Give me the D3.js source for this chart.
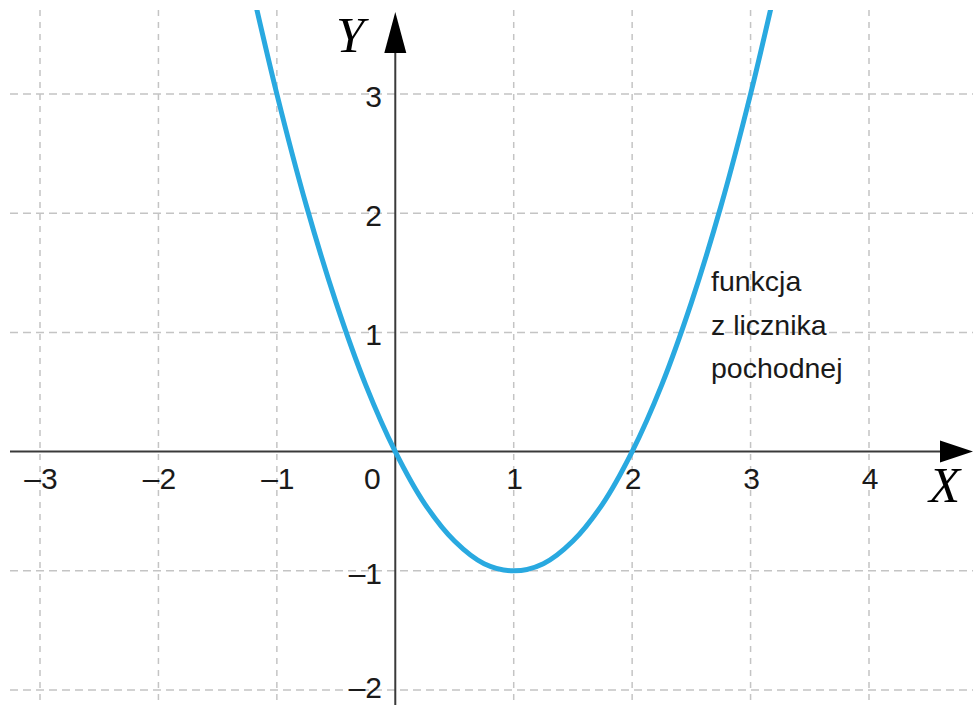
<!DOCTYPE html>
<html>
<head>
  <meta charset="utf-8">
  <title>Parabola</title>
  <script src="https://d3js.org/d3.v7.min.js"></script>
  <style>
    body { margin: 0; background: #fff; }
    svg { display: block; }
  </style>
</head>
<body>
  <div id="chart"></div>
  <script>
    // grid / tick values
    var xTicks = [-3, -2, -1, 0, 1, 2, 3, 4];
    var yTicks = [-2, -1, 1, 2, 3];
    var xTickLabels = ["\u20133", "\u20132", "\u20131", "0", "1", "2", "3", "4"];
    var yTickLabels = ["\u20132", "\u20131", "1", "2", "3"];

    // points
    var curveX = [-1.25, -1, -0.75, -0.5, -0.25, 0, 0.25, 0.5, 0.75, 1, 1.25, 1.5, 1.75, 2, 2.25, 2.5, 2.75, 3, 3.25];
    var curveY = [4.06, 3, 2.06, 1.25, 0.56, 0, -0.44, -0.75, -0.94, -1, -0.94, -0.75, -0.44, 0, 0.56, 1.25, 2.06, 3, 4.06];

    var noteLines = ["funkcja", "z licznika", "pochodnej"];

    var W = 973, H = 705;

    var x = d3.scaleLinear().domain([-3, 4]).range([40, 869]);
    var y = d3.scaleLinear().domain([-2, 3]).range([690, 94]);

    var svg = d3.select("#chart").append("svg")
        .attr("width", W)
        .attr("height", H);

    svg.append("defs").append("clipPath").attr("id", "clip")
      .append("rect").attr("x", 0).attr("y", 10).attr("width", W).attr("height", H - 10);

    // dashed grid
    var grid = svg.append("g")
        .attr("stroke", "#c4c4c4")
        .attr("stroke-width", 1.5);
    grid.selectAll(".vg").data(xTicks.filter(function(d){ return d !== 0; }))
      .enter().append("line")
        .attr("x1", function(d){ return x(d); })
        .attr("x2", function(d){ return x(d); })
        .attr("y1", 10).attr("y2", H)
        .attr("stroke-dasharray", "6,6");
    grid.selectAll(".hg").data(yTicks)
      .enter().append("line")
        .attr("y1", function(d){ return y(d); })
        .attr("y2", function(d){ return y(d); })
        .attr("x1", 10).attr("x2", W)
        .attr("stroke-dasharray", "8,5");

    // axes
    var x0 = x(0), y0 = y(0);
    svg.append("line")
        .attr("x1", 10).attr("x2", 945)
        .attr("y1", y0).attr("y2", y0)
        .attr("stroke", "#3a3a3a").attr("stroke-width", 2);
    svg.append("line")
        .attr("x1", x0).attr("x2", x0)
        .attr("y1", 45).attr("y2", H)
        .attr("stroke", "#3a3a3a").attr("stroke-width", 2);
    svg.append("path")
        .attr("d", "M973," + y0 + "L940," + (y0 - 11) + "L940," + (y0 + 11) + "Z")
        .attr("fill", "#000");
    svg.append("path")
        .attr("d", "M" + x0 + ",12L" + (x0 - 11) + ",53L" + (x0 + 11) + ",53Z")
        .attr("fill", "#000");

    // tick labels
    svg.append("g").selectAll("text").data(xTicks)
      .enter().append("text")
        .attr("x", function(d){ return d === 0 ? x(d) - 23 : x(d) + 1; })
        .attr("y", 489)
        .attr("text-anchor", "middle")
        .attr("font-family", "'Liberation Sans', Arial, sans-serif")
        .attr("font-size", 30)
        .attr("fill", "#1a1a1a")
        .text(function(d, i){ return xTickLabels[i]; });

    svg.append("g").selectAll("text").data(yTicks)
      .enter().append("text")
        .attr("x", 382)
        .attr("y", function(d){ return Math.min(y(d) + 13, 698); })
        .attr("text-anchor", "end")
        .attr("font-family", "'Liberation Sans', Arial, sans-serif")
        .attr("font-size", 30)
        .attr("fill", "#1a1a1a")
        .text(function(d, i){ return yTickLabels[i]; });

    // axis names
    svg.append("text")
        .attr("x", 929).attr("y", 502)
        .attr("font-family", "'Liberation Serif', 'Times New Roman', serif")
        .attr("font-style", "italic")
        .attr("font-size", 51)
        .text("X");
    svg.append("text")
        .attr("x", 336).attr("y", 52)
        .attr("font-family", "'Liberation Serif', 'Times New Roman', serif")
        .attr("font-style", "italic")
        .attr("font-size", 51)
        .text("Y");

    // curve
    var pts = curveX.map(function(d, i){ return [d, curveY[i]]; });
    svg.append("path")
        .datum(pts)
        .attr("clip-path", "url(#clip)")
        .attr("d", d3.line()
          .x(function(d){ return x(d[0]); })
          .y(function(d){ return y(d[1]); })
          .curve(d3.curveCatmullRom))
        .attr("fill", "none")
        .attr("stroke", "#29a9e0")
        .attr("stroke-width", 5);

    // note
    svg.append("g").selectAll("text").data(noteLines)
      .enter().append("text")
        .attr("x", 711)
        .attr("y", function(d, i){ return 291 + i * 43.5; })
        .attr("font-family", "'Liberation Sans', Arial, sans-serif")
        .attr("font-size", 28.5)
        .attr("fill", "#1a1a1a")
        .text(function(d){ return d; });
  </script>
</body>
</html>
